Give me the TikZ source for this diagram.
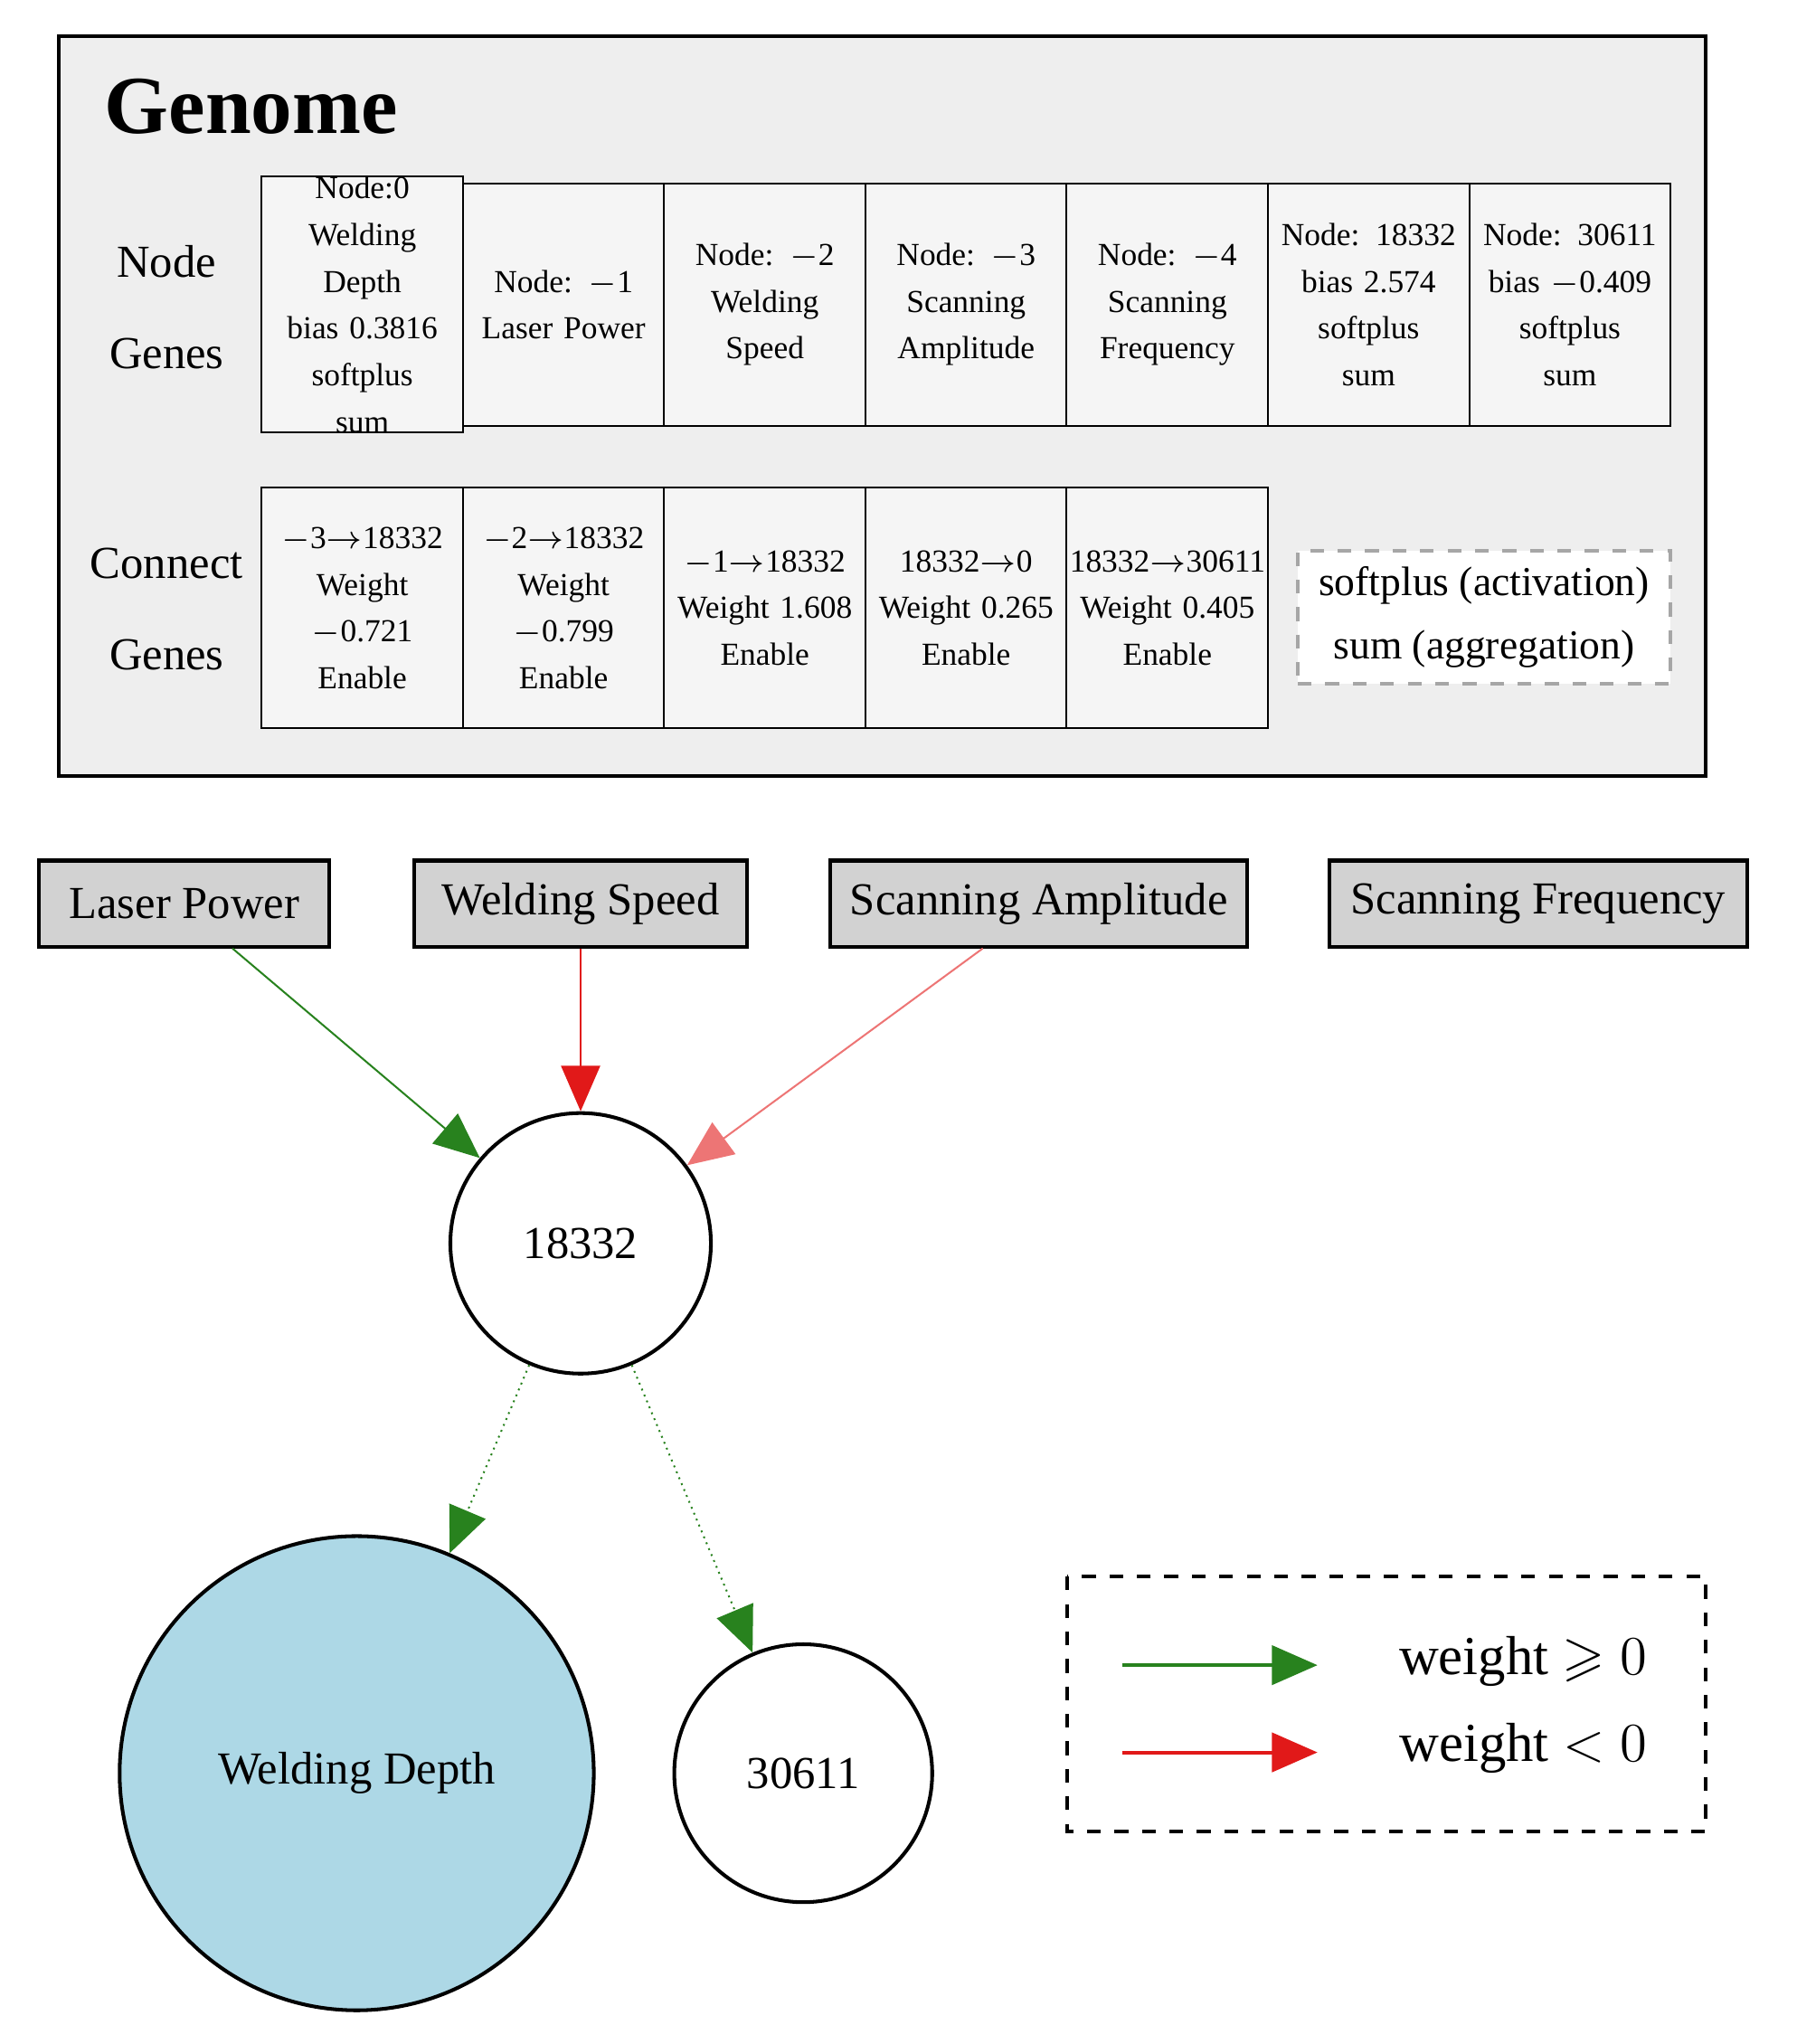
\documentclass[tikz,border=0pt]{standalone}
\usepackage{fontspec}
\setmainfont{Liberation Serif}
\usepackage{amssymb}
\usetikzlibrary{arrows.meta,positioning}
\definecolor{GenomeGray}{RGB}{238,238,238}
\definecolor{InputGray}{RGB}{210,210,210}
\definecolor{DepthBlue}{RGB}{173,216,230}
\definecolor{PosGreen}{RGB}{40,130,30}
\definecolor{NegRed}{RGB}{225,25,25}
\begin{document}
\begin{tikzpicture}[x=0.01cm,y=-0.01cm,
    cell/.style={draw,fill=GenomeGray!60,minimum width=1.546cm,text width=1.5cm,minimum height=#1,align=center,inner sep=0pt,
        font=\fontsize{7}{10.2}\selectfont},
    inp/.style={draw,thick,fill=InputGray,minimum height=0.66cm,inner sep=2pt,font=\normalsize},
    nrn/.style={draw,thick,circle,minimum size=#1,inner sep=0pt,font=\normalsize},
    wpos/.style={PosGreen,-{Triangle[length=0.35cm,width=0.3cm]}},
    wneg/.style={NegRed,-{Triangle[length=0.35cm,width=0.3cm]}}]
    \useasboundingbox (0,0) rectangle (1380,1570);
    % genome panel
    \draw[thick,fill=GenomeGray] (45,28) rectangle (1310,596);
    \node[anchor=west,font=\fontsize{18}{22}\selectfont\bfseries] (title) at (68,82) {Genome};
    \node[align=center,font=\normalsize] (ng) at (128,236) {Node\\[8pt]Genes};
    \node[align=center,font=\normalsize] (cg) at (128,468) {Connect\\[8pt]Genes};
    \foreach \i/\t in {0/{Node:0\\Welding Depth\\bias 0.3816\\softplus\\sum},
        1/{Node: $-$1\\Laser Power},2/{Node: $-$2\\Welding\\Speed},
        3/{Node: $-$3\\Scanning\\Amplitude},4/{Node: $-$4\\Scanning\\Frequency},
        5/{Node: 18332\\bias 2.574\\softplus\\sum},6/{Node: 30611\\bias $-$0.409\\softplus\\sum}} {
       \node[cell=1.86cm] (n\i) at (278.3+154.6*\i,234) {\t};
    }
    \foreach \i/\t in {0/{$-$3$\rightarrow$18332\\Weight $-$0.721\\Enable},
        1/{$-$2$\rightarrow$18332\\Weight $-$0.799\\Enable},
        2/{$-$1$\rightarrow$18332\\Weight 1.608\\Enable},
        3/{18332$\rightarrow$0\\Weight 0.265\\Enable},
        4/{18332$\rightarrow$30611\\Weight 0.405\\Enable}} {
       \node[cell=1.85cm] (c\i) at (278.3+154.6*\i,467) {\t};
    }
    \node[draw=gray!70,dashed,thick,fill=white,minimum width=2.86cm,minimum height=1.01cm,align=center,
       font=\small] (fn) at (1140,474) {softplus (activation)\\[3pt]sum (aggregation)};
    % network
    \node[inp,minimum width=2.23cm] (lp) at (141.5,694) {Laser Power};
    \node[inp,minimum width=2.56cm] (ws) at (446,694) {Welding Speed};
    \node[inp,minimum width=3.2cm] (sa) at (798,694) {Scanning Amplitude};
    \node[inp,minimum width=3.21cm] (sf) at (1181.5,694) {Scanning Frequency};
    \node[nrn=2cm] (h) at (446,955) {18332};
    \node[nrn=3.64cm,fill=DepthBlue] (wd) at (274,1362) {Welding Depth};
    \node[nrn=1.98cm] (o) at (617,1362) {30611};
    \draw[wpos] ([xshift=0.37cm]lp.south) -- (h);
    \draw[wneg] (ws.south) -- (h);
    \draw[wneg,thin,NegRed!60] ([xshift=-0.43cm]sa.south) -- (h);
    \draw[wpos,densely dotted] (h) -- (wd);
    \draw[wpos,densely dotted] (h) -- (o);
    % legend
    \draw[thick,dashed] (820,1211) rectangle (1310,1407);
    \coordinate (g0) at (862,1279); \coordinate (g1) at (1012,1279);
    \coordinate (r0) at (862,1346); \coordinate (r1) at (1012,1346);
    \draw[wpos,thick] (g0) -- (g1);
    \draw[wneg,thick] (r0) -- (r1);
    \node[font=\large] (lg) at (1170,1276) {weight $\geqslant0$};
    \node[font=\large] (lr) at (1170,1343) {weight $<0$};
\end{tikzpicture}
\end{document}
